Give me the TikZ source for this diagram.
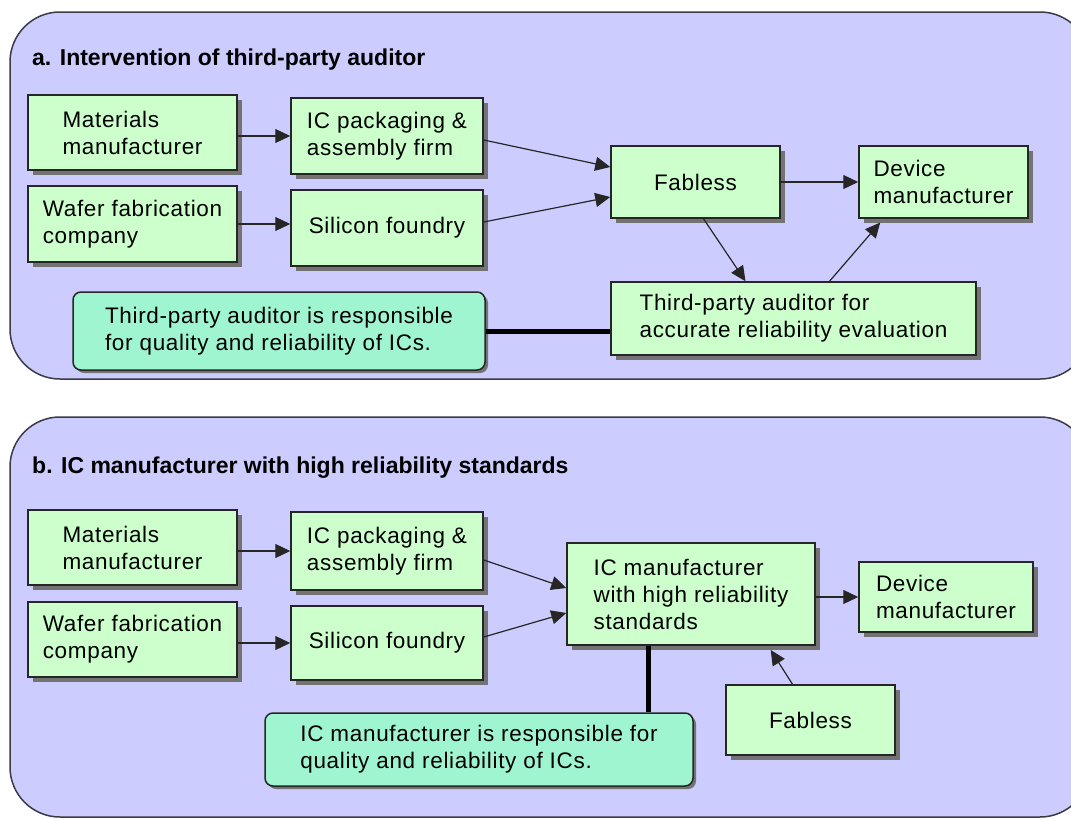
\documentclass[tikz,border=0pt]{standalone}
\usepackage{fontspec}
\setmainfont{Liberation Sans}[LetterSpace=3]
\newfontfamily\headfont{Liberation Sans}
\usetikzlibrary{arrows.meta}
\usetikzlibrary{shadows}
\definecolor{panelblue}{HTML}{CCCCFF}
\definecolor{firmgreen}{HTML}{CCFFCC}
\definecolor{notegreen}{HTML}{9EF5D0}
\definecolor{edgegray}{HTML}{3A3A48}
\tikzstyle{panel} = [draw=edgegray, line width=1.5pt, fill=panelblue, rounded corners=50pt]
\tikzstyle{heading} = [anchor=base west, inner sep=0pt, font=\headfont\bfseries\fontsize{23}{27}\selectfont]
\tikzstyle{firm} = [rectangle, draw=black!85, line width=1.5pt, fill=firmgreen, align=left, font=\fontsize{22.5}{27}\selectfont, drop shadow={shadow xshift=5pt, shadow yshift=-5pt, fill=black!55, opacity=1}]
\tikzstyle{note} = [rectangle, rounded corners=8pt, draw=black!85, line width=1.5pt, fill=notegreen, align=left, font=\fontsize{22.5}{27}\selectfont, drop shadow={shadow xshift=3pt, shadow yshift=-3pt, fill=black!55, opacity=1}]
\tikzstyle{arrow} = [line width=1.2pt, draw=black!85, -{Triangle[length=15pt,width=14pt]}]
\tikzstyle{link} = [line width=5pt, black]

\begin{document}
\begin{tikzpicture}[x=1pt, y=-1pt]
    \useasboundingbox (0,0) rectangle (1071,819);
    \clip (0,0) rectangle (1071,819);

    % panel a
    \draw [panel] (10,12) rectangle (1090,379);
    \node (titleA) [heading] at (32,65) {a. Intervention of third-party auditor};

    \node (matA) [firm, minimum width=209pt, minimum height=75pt] at (132.5,132.5) {Materials\\manufacturer};
    \node (packA) [firm, minimum width=192pt, minimum height=76pt] at (387,136) {IC packaging \&\\assembly firm};
    \node (waferA) [firm, minimum width=209pt, minimum height=76pt] at (132.5,224) {Wafer fabrication\\company};
    \node (siliconA) [firm, minimum width=192pt, minimum height=76pt] at (387,228) {Silicon foundry};
    \node (fablessA) [firm, minimum width=169pt, minimum height=72pt] at (695.5,182) {Fabless};
    \node (deviceA) [firm, minimum width=169pt, minimum height=72pt] at (943.5,182) {Device\\manufacturer};
    \node (auditorA) [firm, minimum width=365pt, minimum height=73pt] at (793.5,318.5) {Third-party auditor for\\accurate reliability evaluation};
    \node (noteA) [note, minimum width=412pt, minimum height=78pt] at (279,331) {Third-party auditor is responsible\\for quality and reliability of ICs.};

    \draw [arrow] (matA.east |- packA.west) -- (packA.west);
    \draw [arrow] (waferA.east) -- (waferA.east -| siliconA.west);
    \draw [arrow] ([yshift=-4pt]packA.east) -- ([yshift=15pt]fablessA.west);
    \draw [arrow] ([yshift=6pt]siliconA.east) -- ([yshift=-15pt]fablessA.west);
    \draw [arrow] (fablessA.east) -- (deviceA.west);
    \draw [arrow] ([xshift=8pt]fablessA.south) -- ([xshift=-48pt]auditorA.north);
    \draw [arrow, shorten >=5pt] ([xshift=36pt]auditorA.north) -- ([xshift=-60pt]deviceA.south);
    \draw [link] (noteA.east) -- (noteA.east -| auditorA.west);

    % panel b
    \draw [panel] (10,417) rectangle (1090,817);
    \node (titleB) [heading] at (32,473) {b. IC manufacturer with high reliability standards};

    \node (matB) [firm, minimum width=209pt, minimum height=75pt] at (132.5,547.5) {Materials\\manufacturer};
    \node (packB) [firm, minimum width=192pt, minimum height=78pt] at (387,551) {IC packaging \&\\assembly firm};
    \node (waferB) [firm, minimum width=209pt, minimum height=75pt] at (132.5,639.5) {Wafer fabrication\\company};
    \node (siliconB) [firm, minimum width=192pt, minimum height=74pt] at (387,643) {Silicon foundry};
    \node (icmB) [firm, minimum width=248pt, minimum height=102pt] at (691,594) {IC manufacturer\\with high reliability\\standards};
    \node (deviceB) [firm, minimum width=174pt, minimum height=70pt] at (946,597) {Device\\manufacturer};
    \node (fablessB) [firm, minimum width=169pt, minimum height=70pt] at (810.5,720) {Fabless};
    \node (noteB) [note, minimum width=428pt, minimum height=73pt] at (479,749.5) {IC manufacturer is responsible for\\quality and reliability of ICs.};

    \draw [arrow] (matB.east |- packB.west) -- (packB.west);
    \draw [arrow] (waferB.east |- siliconB.west) -- (siliconB.west);
    \draw [arrow] ([yshift=-9pt]packB.east) -- ([yshift=6pt]icmB.west);
    \draw [arrow] ([yshift=6pt]siliconB.east) -- ([yshift=-19pt]icmB.west);
    \draw [arrow] (icmB.east |- deviceB.west) -- (deviceB.west);
    \draw [arrow, shorten >=5pt] ([xshift=-18pt]fablessB.north) -- ([xshift=77pt]icmB.south);
    \draw [link] ([xshift=-43pt]icmB.south) -- ([xshift=-43pt]icmB.south |- noteB.north);
\end{tikzpicture}
\end{document}
